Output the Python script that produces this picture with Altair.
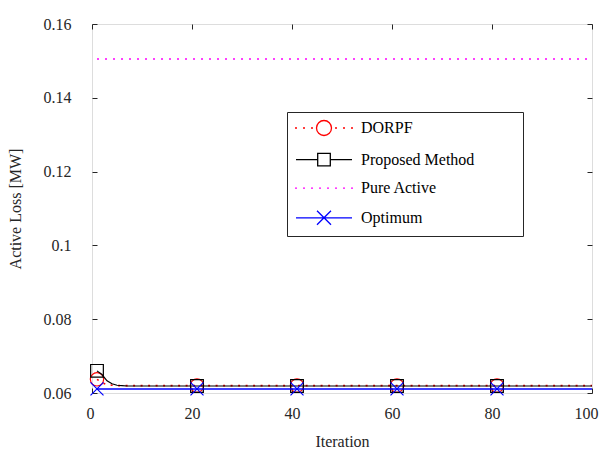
import altair as alt
import pandas as pd

# ---------------- data ----------------
iterations = list(range(1, 101))
dorpf_start = [0.0637, 0.0628, 0.0623, 0.0621]
dorpf_level = 0.0620
proposed_start = [0.0660, 0.0650, 0.0633, 0.0625, 0.0621, 0.0620]
proposed_level = 0.0619
pure_active_level = 0.1505
optimum_level = 0.0611
marker_iterations = [1, 21, 41, 61, 81]
series_names = ["DORPF", "Proposed Method", "Pure Active", "Optimum"]
series_colors = ["#ff0000", "#000000", "#ff00ff", "#0000ff"]
y_ticks = [0.06, 0.08, 0.10, 0.12, 0.14, 0.16]
x_ticks = [0, 20, 40, 60, 80, 100]

n = len(iterations)
series_values = {
    "DORPF": dorpf_start + [dorpf_level] * (n - len(dorpf_start)),
    "Proposed Method": proposed_start + [proposed_level] * (n - len(proposed_start)),
    "Pure Active": [pure_active_level] * n,
    "Optimum": [optimum_level] * n,
}
rows = []
for name in series_names:
    for it, v in zip(iterations, series_values[name]):
        rows.append({"iter": it, "loss": v, "series": name,
                     "marker": it in marker_iterations})
df = pd.DataFrame(rows)

# ---------------- style ----------------
FONT = "Liberation Serif"
TXT = "#262626"
FS = 16

x_scale = alt.Scale(domain=[0, 100], nice=False, zero=False)
y_scale = alt.Scale(domain=[0.06, 0.16], nice=False, zero=False)

tick_common = dict(grid=False, domain=False, ticks=True, tickSize=5,
                   tickColor=TXT, tickWidth=1, offset=-5)

x_main = alt.Axis(orient="bottom", values=x_ticks, format="d", title="Iteration",
                  labelPadding=12, titlePadding=12, labelFontSize=FS, titleFontSize=FS,
                  labelFont=FONT, titleFont=FONT, labelColor=TXT, titleColor=TXT,
                  titleFontWeight="normal", labelFlush=True, labelFlushOffset=6,
                  **tick_common)
y_main = alt.Axis(orient="left", values=y_ticks, format=".2~f", title="Active Loss [MW]",
                  labelPadding=21, titlePadding=20, labelFontSize=FS, titleFontSize=FS,
                  labelFont=FONT, titleFont=FONT, labelColor=TXT, titleColor=TXT,
                  titleFontWeight="normal", labelFlush=False, **tick_common)
x_mirror = alt.Axis(orient="top", values=x_ticks, labels=False, title=None, **tick_common)
y_mirror = alt.Axis(orient="right", values=y_ticks, labels=False, title=None, **tick_common)

# legend symbol paths (unit coordinates, scaled by sqrt(size)/2 = 7 px)
SYM_SIZE = 196
S = 7.0
def dots(px_list):
    return "".join(f"M{(p - 1) / S:.4f},0L{(p + 1) / S:.4f},0" for p in px_list)

r = 7.5 / S
h = 6.3 / S
xh = 7.0 / S
reach = f"M{188 / S:.3f},0"   # widens the legend box to the reference width
legend_paths = [
    dots([-28, -20, -12, 12, 20, 28])
    + f"M{r:.4f},0A{r:.4f},{r:.4f},0,1,1,{-r:.4f},0A{r:.4f},{r:.4f},0,1,1,{r:.4f},0" + reach,
    f"M-4,0L{-h:.4f},0M{h:.4f},0L4,0"
    + f"M{-h:.4f},{-h:.4f}L{h:.4f},{-h:.4f}L{h:.4f},{h:.4f}L{-h:.4f},{h:.4f}Z" + reach,
    dots([-28, -20, -12, -4, 4, 12, 20, 28]) + reach,
    f"M-4,0L4,0M{-xh:.4f},{-xh:.4f}L{xh:.4f},{xh:.4f}M{-xh:.4f},{xh:.4f}L{xh:.4f},{-xh:.4f}"
    + reach,
]

leg = alt.Legend(title=None, orient="none", legendX=195, legendY=88, padding=8,
                 symbolOffset=21, labelOffset=29, rowPadding=11.6,
                 symbolStrokeWidth=1.3, symbolSize=SYM_SIZE,
                 strokeColor=TXT, fillColor="white", labelFont=FONT, labelFontSize=FS,
                 labelColor="black", labelLimit=400)

base = alt.Chart(df)


def xy(layer, xaxis=None, yaxis=None):
    return layer.encode(
        x=alt.X("iter:Q", scale=x_scale, axis=xaxis),
        y=alt.Y("loss:Q", scale=y_scale, axis=yaxis),
    )


def sel(name, markers=False):
    expr = f"datum.series == '{name}'"
    if markers:
        expr += " && datum.marker"
    return base.transform_filter(expr)


dorpf_line = xy(sel("DORPF").mark_line(color="#ff0000", strokeWidth=1.6,
                                       strokeDash=[2, 5.5], strokeCap="butt"),
                x_main, y_main)
dorpf_mk = xy(sel("DORPF", True).mark_point(shape="circle", size=177, color="#ff0000",
                                           filled=False, strokeWidth=1.2, opacity=1))
prop_line = xy(sel("Proposed Method").mark_line(color="#000000", strokeWidth=1.2))
prop_mk = xy(sel("Proposed Method", True).mark_point(shape="square", size=161, color="#000000",
                                                    filled=False, strokeWidth=1.2, opacity=1))
pure_line = xy(sel("Pure Active").mark_line(color="#ff00ff", strokeWidth=1.6,
                                            strokeDash=[2, 6], strokeCap="butt"),
               x_mirror, y_mirror)
opt_line = xy(sel("Optimum").mark_line(color="#0000ff", strokeWidth=1.5))
opt_mk = xy(sel("Optimum", True).mark_point(shape="M-1,-1L1,1M-1,1L1,-1", size=169,
                                           color="#0000ff", filled=False,
                                           strokeWidth=1.2, opacity=1))

legend_layer = xy(base.transform_filter("false").mark_point(
    filled=False, opacity=1, size=SYM_SIZE, strokeWidth=1.3)).encode(
    color=alt.Color("series:N", scale=alt.Scale(domain=series_names, range=series_colors),
                    legend=leg),
    shape=alt.Shape("series:N", scale=alt.Scale(domain=series_names, range=legend_paths),
                    legend=leg),
)

chart = alt.layer(
    dorpf_line, dorpf_mk, prop_line, prop_mk, pure_line, opt_line, opt_mk, legend_layer
).resolve_axis(x="independent", y="independent").properties(
    width=500, height=369,
    autosize=alt.AutoSizeParams(type="none"),
    padding={"left": 92, "top": 24, "right": 10, "bottom": 57},
    background="white",
).configure_view(stroke=TXT, strokeWidth=1.2).configure(font=FONT).configure_axis(
    labelFont=FONT, titleFont=FONT).configure_legend(labelFont=FONT)

chart.save("out.html", embed_options={"renderer": "svg", "actions": False})
